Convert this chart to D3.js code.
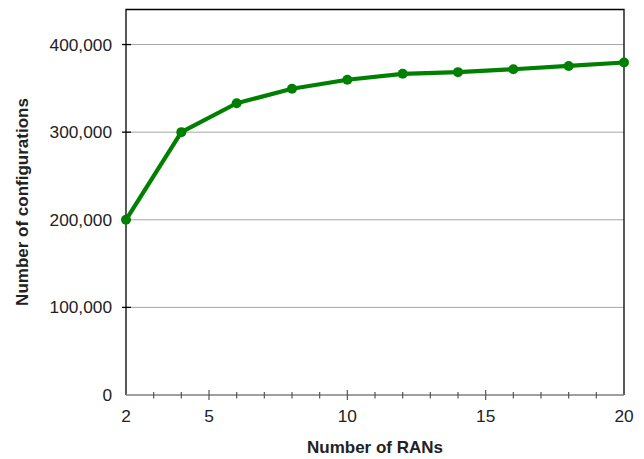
<!DOCTYPE html>
<html><head><meta charset="utf-8">
<script src="https://cdn.jsdelivr.net/npm/d3@7"></script>
<style>body{margin:0;background:#fff}svg{display:block}</style>
</head><body>
<svg id="c" width="644" height="459"></svg>
<script>
const rans = [2, 4, 6, 8, 10, 12, 14, 16, 18, 20];
const configs = [200000, 300000, 333000, 349500, 359800, 366600, 368500, 371800, 375600, 379500];
const xTickLabels = [2, 5, 10, 15, 20];
const yTickLabels = [0, 100000, 200000, 300000, 400000];

const svg = d3.select("#c");
const L = 126, R = 624, T = 9.5, B = 395;
const x = d3.scaleLinear().domain([2, 20]).range([L, R]);
const y = d3.scaleLinear().domain([0, 440000]).range([B, T]);
const font = "Liberation Sans, Arial, sans-serif";

// gridlines
svg.append("g").selectAll("line").data(yTickLabels.filter(d => d > 0)).join("line")
  .attr("x1", L).attr("x2", R).attr("y1", d => y(d)).attr("y2", d => y(d))
  .attr("stroke", "#a6a6a6").attr("stroke-width", 1);

// frame: top, left, right black
svg.append("path").attr("d", `M${L},${B}V${T}H${R}V${B}`)
  .attr("fill", "none").attr("stroke", "#000").attr("stroke-width", 1.3);

// bottom axis gray line
svg.append("line").attr("x1", L).attr("x2", R).attr("y1", B).attr("y2", B)
  .attr("stroke", "#7f7f7f").attr("stroke-width", 1.5);

// x minor ticks
const minor = d3.range(3, 20).filter(d => xTickLabels.indexOf(d) < 0);
svg.append("g").selectAll("line").data(minor).join("line")
  .attr("x1", d => x(d)).attr("x2", d => x(d)).attr("y1", B - 3).attr("y2", B + 3.5)
  .attr("stroke", "#555").attr("stroke-width", 1.2);
svg.append("g").selectAll("line").data([5, 10, 15]).join("line")
  .attr("x1", d => x(d)).attr("x2", d => x(d)).attr("y1", B - 5).attr("y2", B + 5)
  .attr("stroke", "#555").attr("stroke-width", 1.2);

// y ticks
svg.append("g").selectAll("line").data(yTickLabels.filter(d => d > 0)).join("line")
  .attr("x1", L - 4).attr("x2", L + 5).attr("y1", d => y(d)).attr("y2", d => y(d))
  .attr("stroke", "#000").attr("stroke-width", 1.3);

// tick labels
const fmt = d3.format(",");
svg.append("g").selectAll("text").data(yTickLabels).join("text")
  .attr("x", 112).attr("y", d => y(d)).attr("dy", "0.35em")
  .attr("text-anchor", "end").attr("font-family", font).attr("font-size", 17.3)
  .attr("fill", "#222").text(d => fmt(d));
svg.append("g").selectAll("text").data(xTickLabels).join("text")
  .attr("x", d => x(d)).attr("y", 422)
  .attr("text-anchor", "middle").attr("font-family", font).attr("font-size", 17.3)
  .attr("fill", "#222").text(d => d);

// axis titles
svg.append("text").attr("x", 375).attr("y", 453).attr("text-anchor", "middle")
  .attr("font-family", font).attr("font-size", 17).attr("font-weight", "bold")
  .attr("fill", "#222").text("Number of RANs");
svg.append("text").attr("transform", "translate(28,202) rotate(-90)").attr("text-anchor", "middle")
  .attr("font-family", font).attr("font-size", 17).attr("font-weight", "bold")
  .attr("fill", "#222").text("Number of configurations");

// line
const data = rans.map((r, i) => ({x: r, y: configs[i]}));
svg.append("path").datum(data)
  .attr("d", d3.line().x(d => x(d.x)).y(d => y(d.y)))
  .attr("fill", "none").attr("stroke", "#008000").attr("stroke-width", 4.2)
  .attr("stroke-linejoin", "round");
svg.append("g").selectAll("circle").data(data).join("circle")
  .attr("cx", d => x(d.x)).attr("cy", d => y(d.y)).attr("r", 5)
  .attr("fill", "#008000");
</script>
</body></html>
